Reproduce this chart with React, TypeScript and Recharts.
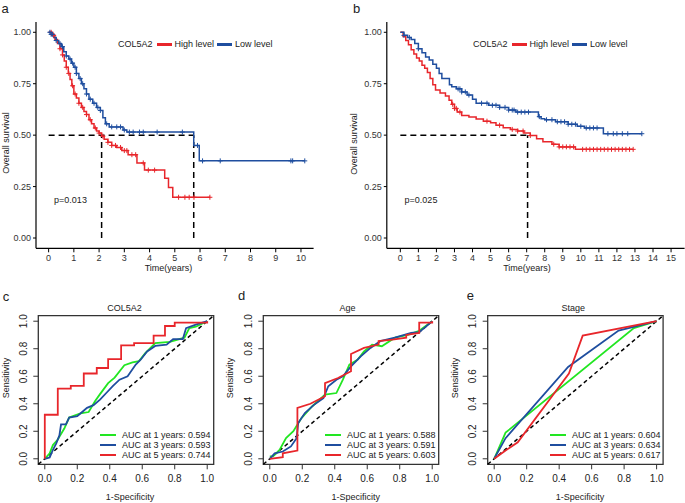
import React from 'react'
import {
  ComposedChart,
  Line,
  Scatter,
  XAxis,
  YAxis,
  ReferenceLine,
  ReferenceArea,
  Legend,
} from 'recharts'

const FONT = '"Liberation Sans", Arial, sans-serif'
const RED = '#e8262b'
const BLUE = '#1f4e9f'
const GREEN = '#22e622'

// ---- panel a: KM ----
const aHighT = [0, 0.12, 0.25, 0.35, 0.45, 0.55, 0.62, 0.7, 0.78, 0.85, 0.92, 1.0, 1.1, 1.2, 1.3, 1.4, 1.5, 1.6, 1.7, 1.8, 1.9, 2.0, 2.1, 2.2, 2.35, 2.5, 2.7, 2.9, 3.15, 3.5, 3.8, 4.6, 4.75, 4.92, 6.4]
const aHighS = [1, 0.985, 0.965, 0.945, 0.92, 0.89, 0.86, 0.83, 0.8, 0.77, 0.74, 0.7, 0.68, 0.655, 0.635, 0.615, 0.6, 0.575, 0.555, 0.535, 0.52, 0.51, 0.495, 0.48, 0.465, 0.45, 0.44, 0.425, 0.405, 0.365, 0.33, 0.29, 0.245, 0.198, 0.198]
const aHighCens = [0.1, 0.2, 0.45, 0.55, 0.7, 0.8, 0.95, 1.05, 1.2, 1.35, 1.5, 1.65, 1.85, 2.0, 2.15, 2.35, 2.5, 2.65, 2.85, 3.0, 3.1, 3.3, 3.45, 3.75, 3.95, 4.2, 5.15, 5.4, 5.57, 5.76, 6.39]
const aLowT = [0, 0.1, 0.2, 0.3, 0.4, 0.5, 0.6, 0.7, 0.8, 0.9, 1.0, 1.1, 1.2, 1.3, 1.4, 1.5, 1.6, 1.75, 1.9, 2.05, 2.15, 2.25, 2.4, 2.95, 3.1, 5.75, 5.97, 10.15]
const aLowS = [1, 0.99, 0.975, 0.96, 0.945, 0.93, 0.905, 0.885, 0.87, 0.85, 0.83, 0.8, 0.775, 0.75, 0.725, 0.7, 0.675, 0.655, 0.635, 0.62, 0.585, 0.555, 0.54, 0.525, 0.515, 0.45, 0.375, 0.375]
const aLowCens = [0.05, 0.1, 0.15, 0.3, 0.45, 0.55, 0.7, 0.85, 0.95, 1.05, 1.1, 1.25, 1.35, 1.5, 1.65, 1.8, 1.95, 2.05, 2.3, 2.5, 2.7, 2.85, 3.0, 3.2, 3.35, 3.6, 3.75, 4.3, 5.3, 5.9, 6.1, 6.8, 9.6, 9.67, 10.15]
const aMedians = [2.1, 5.75]

// ---- panel b: KM ----
const bHighT = [0, 0.15, 0.3, 0.45, 0.6, 0.75, 0.9, 1.05, 1.2, 1.35, 1.5, 1.65, 1.8, 1.95, 2.2, 2.5, 2.7, 2.85, 3.0, 3.15, 3.4, 3.8, 4.2, 4.6, 5.0, 5.3, 5.7, 6.1, 6.5, 6.85, 7.2, 7.55, 7.9, 8.4, 8.8, 9.7, 12.9]
const bHighS = [1, 0.98, 0.96, 0.94, 0.915, 0.895, 0.875, 0.86, 0.84, 0.825, 0.805, 0.775, 0.745, 0.72, 0.705, 0.69, 0.67, 0.65, 0.63, 0.612, 0.596, 0.588, 0.578, 0.568, 0.56, 0.548, 0.536, 0.528, 0.52, 0.51, 0.498, 0.483, 0.468, 0.456, 0.443, 0.431, 0.431]
const bHighCens = [2.9, 3.0, 3.1, 3.3, 4.8, 5.5, 6.2, 6.5, 6.8, 7.2, 8.5, 8.8, 9.0, 9.2, 9.4, 9.6, 10.1, 10.3, 10.5, 10.7, 10.9, 11.1, 11.3, 11.5, 11.7, 11.9, 12.1, 12.3, 12.5, 12.7, 12.9]
const bLowT = [0, 0.2, 0.4, 0.6, 0.8, 1.0, 1.2, 1.4, 1.6, 1.8, 2.0, 2.15, 2.3, 2.72, 2.85, 3.1, 3.4, 3.7, 4.0, 4.2, 4.9, 5.5, 6.0, 6.4, 7.65, 7.8, 8.0, 8.6, 9.3, 9.8, 10.2, 11.25, 13.38]
const bLowS = [1, 0.985, 0.975, 0.965, 0.945, 0.92, 0.9, 0.88, 0.865, 0.845, 0.825, 0.8, 0.775, 0.745, 0.735, 0.725, 0.71, 0.695, 0.675, 0.655, 0.645, 0.635, 0.622, 0.612, 0.59, 0.58, 0.575, 0.565, 0.553, 0.543, 0.535, 0.507, 0.507]
const bLowCens = [0.2, 0.5, 1.0, 3.2, 3.3, 3.4, 3.6, 3.8, 4.5, 4.8, 5.1, 5.3, 5.5, 5.8, 6.0, 6.2, 6.3, 6.5, 6.7, 6.9, 7.1, 7.7, 8.1, 8.4, 8.7, 8.9, 9.1, 9.3, 9.5, 9.7, 10.0, 10.3, 10.5, 10.7, 10.9, 11.5, 11.8, 12.0, 12.3, 12.6, 13.38]
const bMedians = [7.05]

// ---- ROC curves: [1-specificity, sensitivity] ----
const years = [1, 3, 5]
const rocColors = [GREEN, BLUE, RED]

const colY1: [number, number][] = [[0, 0], [0.03, 0.04], [0.05, 0.1], [0.08, 0.14], [0.12, 0.22], [0.15, 0.3], [0.22, 0.33], [0.27, 0.34], [0.31, 0.42], [0.34, 0.47], [0.39, 0.55], [0.43, 0.59], [0.49, 0.68], [0.54, 0.7], [0.58, 0.71], [0.62, 0.77], [0.68, 0.84], [0.77, 0.85], [0.86, 0.88], [0.89, 0.95], [0.93, 0.96], [1, 1]]
const colY3: [number, number][] = [[0, 0], [0.03, 0.01], [0.05, 0.065], [0.07, 0.11], [0.09, 0.17], [0.1, 0.25], [0.13, 0.25], [0.15, 0.3], [0.2, 0.31], [0.23, 0.34], [0.26, 0.37], [0.3, 0.39], [0.34, 0.43], [0.38, 0.48], [0.42, 0.53], [0.46, 0.575], [0.51, 0.6], [0.56, 0.685], [0.59, 0.72], [0.63, 0.78], [0.68, 0.82], [0.75, 0.83], [0.79, 0.87], [0.85, 0.87], [0.87, 0.95], [0.93, 0.975], [1, 1]]
const colY5: [number, number][] = [[0, 0], [0, 0.32], [0.08, 0.32], [0.08, 0.51], [0.16, 0.51], [0.16, 0.53], [0.24, 0.53], [0.24, 0.62], [0.32, 0.62], [0.32, 0.66], [0.39, 0.66], [0.39, 0.725], [0.47, 0.725], [0.47, 0.825], [0.55, 0.825], [0.55, 0.84], [0.67, 0.84], [0.67, 0.895], [0.74, 0.895], [0.74, 0.965], [0.8, 0.965], [0.8, 0.99], [1, 0.99], [1, 1]]
const colAuc = [0.594, 0.593, 0.744]

const ageY1: [number, number][] = [[0, 0.017], [0.02, 0.017], [0.06, 0.065], [0.1, 0.15], [0.145, 0.2], [0.195, 0.296], [0.26, 0.38], [0.34, 0.466], [0.41, 0.478], [0.45, 0.575], [0.49, 0.684], [0.54, 0.72], [0.58, 0.78], [0.63, 0.83], [0.69, 0.818], [0.77, 0.88], [0.85, 0.9], [0.92, 0.93], [1, 1]]
const ageY3: [number, number][] = [[0, 0], [0.03, 0.04], [0.08, 0.053], [0.13, 0.09], [0.165, 0.15], [0.175, 0.26], [0.216, 0.333], [0.27, 0.39], [0.33, 0.44], [0.36, 0.527], [0.41, 0.575], [0.45, 0.6], [0.5, 0.672], [0.56, 0.745], [0.62, 0.806], [0.68, 0.855], [0.77, 0.88], [0.87, 0.915], [0.92, 0.92], [0.95, 0.95], [1, 1]]
const ageY5: [number, number][] = [[0, 0], [0.08, 0.012], [0.08, 0.04], [0.17, 0.06], [0.17, 0.37], [0.25, 0.4], [0.34, 0.455], [0.34, 0.55], [0.42, 0.587], [0.5, 0.636], [0.5, 0.762], [0.58, 0.806], [0.67, 0.83], [0.67, 0.855], [0.755, 0.866], [0.84, 0.88], [0.84, 0.9], [0.92, 0.915], [0.92, 0.99], [1, 0.99], [1, 1]]
const ageAuc = [0.588, 0.591, 0.603]

const stageY1: [number, number][] = [[0, 0], [0.07, 0.19], [0.86, 0.95], [1, 1]]
const stageY3: [number, number][] = [[0, 0], [0.07, 0.15], [0.455, 0.667], [0.766, 0.932], [1, 1]]
const stageY5: [number, number][] = [[0, 0], [0.07, 0.06], [0.145, 0.12], [0.46, 0.62], [0.545, 0.895], [1, 1]]
const stageAuc = [0.604, 0.634, 0.617]

const survAt = (t: number, times: number[], surv: number[]) => {
  let s = surv[0]
  for (let i = 0; i < times.length; i++) if (times[i] <= t) s = surv[i]
  return s
}

const kmCurve = (name: string, color: string, times: number[], surv: number[], cens: number[]) => ({
  name,
  color,
  steps: times.map((t, i) => ({ t, s: surv[i] })),
  marks: cens.map((t) => ({ t, s: survAt(t, times, surv) })),
})

const plus = (color: string) => (p: any) => (
  <path d={`M${p.cx - 2.5},${p.cy}h5M${p.cx},${p.cy - 2.5}v5`} stroke={color} strokeWidth={1} fill="none" />
)

function Txt({ x, y, size = 9, rotate = 0, children }: any) {
  return (
    <div
      style={{
        position: 'absolute',
        left: x,
        top: y,
        transform: `translate(-50%,-50%)${rotate ? ` rotate(${rotate}deg)` : ''}`,
        fontSize: size,
        lineHeight: 1.15,
        whiteSpace: 'nowrap',
        fontFamily: FONT,
        color: '#222',
      }}
    >
      {children}
    </div>
  )
}

function KmPanel({ left, width, mLeft, mRight, xMax, curves, medians, legendLeft }: any) {
  const xTicks = Array.from({ length: xMax + 1 }, (_, i) => i)
  const tickStyle = { fill: '#333', fontSize: 9, fontFamily: FONT }
  const names = curves.map((c: any) => c.name)
  return (
    <div style={{ position: 'absolute', left, top: 0 }}>
      <ComposedChart width={width} height={280} margin={{ top: 22, right: mRight, bottom: 6.7, left: mLeft }}>
        <XAxis
          type="number"
          dataKey="t"
          domain={[-xMax * 0.05, xMax * 1.05]}
          ticks={xTicks}
          interval={0}
          allowDataOverflow
          height={25}
          tickSize={4}
          tickMargin={2}
          axisLine={{ stroke: '#000', strokeWidth: 1.2 }}
          tickLine={{ stroke: '#000' }}
          tick={tickStyle}
        />
        <YAxis
          type="number"
          dataKey="s"
          domain={[-0.05, 1.05]}
          ticks={[0, 0.25, 0.5, 0.75, 1]}
          tickFormatter={(v: number) => v.toFixed(2)}
          allowDataOverflow
          width={30}
          tickSize={3}
          tickMargin={2}
          axisLine={{ stroke: '#000', strokeWidth: 1.2 }}
          tickLine={{ stroke: '#000' }}
          tick={tickStyle}
        />
        <ReferenceLine
          segment={[{ x: 0, y: 0.5 }, { x: Math.max(...medians), y: 0.5 }]}
          stroke="#000"
          strokeWidth={1.5}
          strokeDasharray="6 4"
        />
        {medians.map((m: number) => (
          <ReferenceLine
            key={m}
            segment={[{ x: m, y: 0 }, { x: m, y: 0.5 }]}
            stroke="#000"
            strokeWidth={1.5}
            strokeDasharray="6 4"
          />
        ))}
        {curves.map((c: any) => (
          <Line
            key={c.name}
            name={c.name}
            data={c.steps}
            dataKey="s"
            type="stepAfter"
            stroke={c.color}
            strokeWidth={1.5}
            dot={false}
            activeDot={false}
            isAnimationActive={false}
          />
        ))}
        {curves.map((c: any) => (
          <Scatter
            key={c.name + '-cens'}
            name={c.name + ' censored'}
            data={c.marks}
            dataKey="s"
            shape={plus(c.color)}
            legendType="none"
            isAnimationActive={false}
          />
        ))}
        <Legend
          layout="horizontal"
          verticalAlign="middle"
          align="center"
          wrapperStyle={{ left: legendLeft, top: 39, width: 'auto', height: 'auto' }}
          content={({ payload }: any) => (
            <div style={{ display: 'flex', alignItems: 'center', fontSize: 9, fontFamily: FONT, color: '#222', whiteSpace: 'nowrap' }}>
              <span style={{ marginRight: 1 }}>COL5A2</span>
              {(payload || [])
                .filter((p: any) => names.includes(p.value))
                .map((p: any) => (
                  <span key={p.value} style={{ display: 'flex', alignItems: 'center' }}>
                    <span style={{ display: 'inline-block', width: 15, height: 3, background: p.color, margin: '0 3px' }} />
                    {p.value}
                  </span>
                ))}
            </div>
          )}
        />
      </ComposedChart>
    </div>
  )
}

function RocPanel({ left, plotLeft, sets, aucs }: any) {
  const curves = sets.map((pts: [number, number][], i: number) => ({
    name: `AUC at ${years[i]} years: ${aucs[i].toFixed(3)}`,
    color: rocColors[i],
    data: pts.map(([x, y]) => ({ x, y })),
  }))
  const ticks = [0, 0.2, 0.4, 0.6, 0.8, 1]
  const yTick = (p: any) => (
    <g transform={`translate(${p.x - 8},${p.y}) rotate(-90)`}>
      <text textAnchor="middle" dy="0.35em" fontSize={10} fontFamily={FONT} fill="#222">
        {Number(p.payload.value).toFixed(1)}
      </text>
    </g>
  )
  return (
    <div style={{ position: 'absolute', left, top: 280 }}>
      <ComposedChart width={225} height={223} margin={{ top: 35.7, right: 225 - plotLeft - 175.4, bottom: 8.7, left: plotLeft - 30 }}>
        <XAxis
          type="number"
          dataKey="x"
          domain={[-0.04, 1.04]}
          ticks={ticks}
          interval={0}
          allowDataOverflow
          height={30}
          axisLine={false}
          tickSize={5}
          tickMargin={6}
          tickLine={{ stroke: '#333' }}
          tickFormatter={(v: number) => v.toFixed(1)}
          tick={{ fill: '#222', fontSize: 10, fontFamily: FONT }}
        />
        <YAxis
          type="number"
          dataKey="y"
          domain={[-0.04, 1.04]}
          ticks={ticks}
          interval={0}
          allowDataOverflow
          width={30}
          axisLine={false}
          tickSize={5}
          tickMargin={2}
          tickLine={{ stroke: '#333' }}
          tick={yTick}
        />
        <ReferenceLine
          segment={[{ x: -0.04, y: -0.04 }, { x: 1.04, y: 1.04 }]}
          stroke="#000"
          strokeWidth={1.5}
          strokeDasharray="4 3"
          ifOverflow="visible"
        />
        {curves.map((c: any) => (
          <Line
            key={c.name}
            name={c.name}
            data={c.data}
            dataKey="y"
            type="linear"
            stroke={c.color}
            strokeWidth={1.8}
            dot={false}
            activeDot={false}
            isAnimationActive={false}
          />
        ))}
        <ReferenceArea
          x1={-0.04}
          x2={1.04}
          y1={-0.04}
          y2={1.04}
          fill="none"
          fillOpacity={0}
          stroke="#333"
          strokeWidth={1.3}
          ifOverflow="visible"
        />
        <Legend
          layout="horizontal"
          verticalAlign="middle"
          align="center"
          wrapperStyle={{ left: 100, top: 150, width: 'auto', height: 'auto' }}
          content={({ payload }: any) => (
            <div style={{ display: 'flex', flexDirection: 'column', fontSize: 9, fontFamily: FONT, color: '#222', whiteSpace: 'nowrap' }}>
              {(payload || []).map((p: any) => (
                <div key={p.value} style={{ display: 'flex', alignItems: 'center', height: 10 }}>
                  <span style={{ display: 'inline-block', width: 16, height: 2, background: p.color, marginRight: 6 }} />
                  {p.value}
                </div>
              ))}
            </div>
          )}
        />
      </ComposedChart>
    </div>
  )
}

export default function App() {
  const aCurves = [
    kmCurve('High level', RED, aHighT, aHighS, aHighCens),
    kmCurve('Low level', BLUE, aLowT, aLowS, aLowCens),
  ]
  const bCurves = [
    kmCurve('High level', RED, bHighT, bHighS, bHighCens),
    kmCurve('Low level', BLUE, bLowT, bLowS, bLowCens),
  ]
  return (
    <div style={{ position: 'absolute', left: 0, top: 0, width: 685, height: 503, background: '#fff', overflow: 'hidden', fontFamily: FONT }}>
      <KmPanel left={0} width={335} mLeft={6} mRight={21.4} xMax={10} curves={aCurves} medians={aMedians} legendLeft={118} />
      <KmPanel left={340} width={345} mLeft={16.8} mRight={0.4} xMax={15} curves={bCurves} medians={bMedians} legendLeft={133} />

      <RocPanel left={0} plotLeft={38.3} sets={[colY1, colY3, colY5]} aucs={colAuc} />
      <RocPanel left={225} plotLeft={38.3} sets={[ageY1, ageY3, ageY5]} aucs={ageAuc} />
      <RocPanel left={450} plotLeft={37.7} sets={[stageY1, stageY3, stageY5]} aucs={stageAuc} />

      {/* KM axis titles and p values */}
      <Txt x={5.5} y={143} rotate={-90}>Overall survival</Txt>
      <Txt x={168.5} y={268}>Time(years)</Txt>
      <Txt x={70.5} y={200}>p=0.013</Txt>
      <Txt x={353.5} y={144} rotate={-90}>Overall survival</Txt>
      <Txt x={527} y={268}>Time(years)</Txt>
      <Txt x={421} y={200}>p=0.025</Txt>

      {/* ROC titles and axis titles */}
      <Txt x={124.5} y={308}>COL5A2</Txt>
      <Txt x={347.5} y={308}>Age</Txt>
      <Txt x={573.3} y={308}>Stage</Txt>
      <Txt x={130} y={497}>1-Specificity</Txt>
      <Txt x={355.7} y={497}>1-Specificity</Txt>
      <Txt x={580} y={497}>1-Specificity</Txt>
      <Txt x={5.5} y={378} rotate={-90}>Sensitivity</Txt>
      <Txt x={230} y={378} rotate={-90}>Sensitivity</Txt>
      <Txt x={455} y={378} rotate={-90}>Sensitivity</Txt>

      {/* panel letters */}
      <Txt x={5} y={9} size={13}>a</Txt>
      <Txt x={356.7} y={9} size={13}>b</Txt>
      <Txt x={6} y={297} size={13}>c</Txt>
      <Txt x={241.7} y={296} size={13}>d</Txt>
      <Txt x={470.3} y={296} size={13}>e</Txt>
    </div>
  )
}
